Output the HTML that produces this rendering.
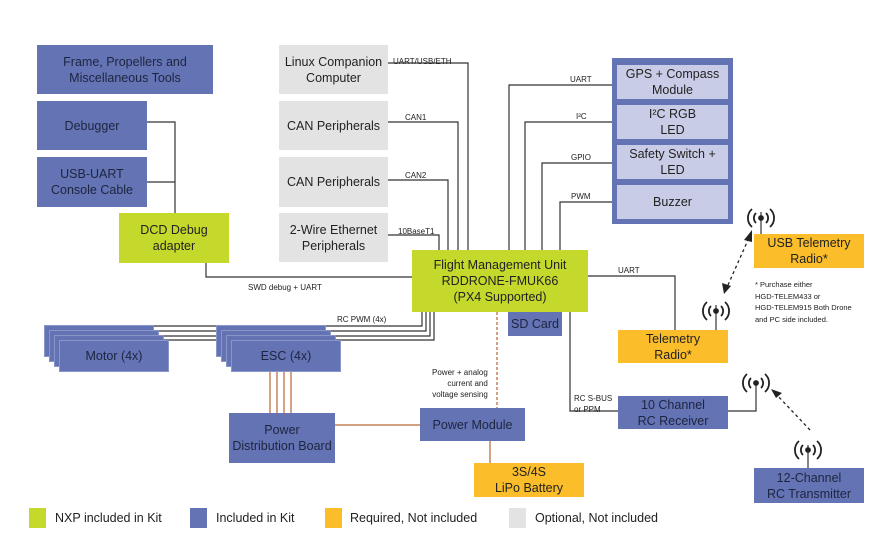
<!DOCTYPE html>
<html><head><meta charset="utf-8"><style>
body{margin:0;width:888px;height:533px;background:#fff;position:relative;overflow:hidden;font-family:"Liberation Sans",sans-serif;}
.b{position:absolute;display:flex;align-items:center;justify-content:center;text-align:center;font-size:12.5px;line-height:16px;color:#222;box-sizing:border-box;}
.bl{background:#6373b3;color:#1e2540;}
.gr{background:#e3e3e3;}
.gn{background:#c5d92d;}
.yl{background:#fbbd2a;}
.lv{background:#c9cce6;}
.t{position:absolute;font-size:8px;color:#222;white-space:nowrap;}
svg{position:absolute;left:0;top:0;}
</style></head><body>
<svg width="888" height="533">
<g stroke="#333" stroke-width="1.2" fill="none">
<polyline points="147,122 175,122 175,213"/>
<polyline points="147,182 175,182"/>
<polyline points="206,263 206,277 412,277"/>
<polyline points="388,63 468,63 468,250"/>
<polyline points="388,122 458,122 458,250"/>
<polyline points="388,180 448,180 448,250"/>
<polyline points="388,235 439,235 439,250"/>
<polyline points="617,85 509,85 509,250"/>
<polyline points="617,122 525,122 525,250"/>
<polyline points="617,163 542,163 542,250"/>
<polyline points="617,202 560,202 560,250"/>
<polyline points="588,276 675,276 675,330"/>
<polyline points="570,312 570,411 618,411"/>
<polyline points="728,411 756,411 756,385"/>
<polyline points="716,330 716,305"/>
<polyline points="761,234 761,212"/>
<polyline points="808,468 808,445"/>
<polyline points="434,312 434,340 150,340"/>
<polyline points="430,312 430,336 150,336"/>
<polyline points="426,312 426,331 150,331"/>
<polyline points="422,312 422,326 150,326"/>
</g>
<g stroke="#c9825a" stroke-width="1.5" fill="none">
<line x1="270" y1="372" x2="270" y2="413"/><line x1="277" y1="372" x2="277" y2="413"/>
<line x1="284" y1="372" x2="284" y2="413"/><line x1="291" y1="372" x2="291" y2="413"/>
<line x1="335" y1="425" x2="420" y2="425"/>
<line x1="490" y1="441" x2="490" y2="463"/>
<line x1="497" y1="312" x2="497" y2="408" stroke-dasharray="3,2"/>
</g>
<g stroke="#222" stroke-width="1.3" fill="none" stroke-dasharray="3,3">
<line x1="728" y1="285" x2="748" y2="240"/>
<line x1="810" y1="430" x2="776" y2="394"/>
</g>
<g fill="#222">
<polygon points="752,230 744,240 752,242"/>
<polygon points="724,294 722,283 731,286"/>
<polygon points="771,389 782,393 776,398"/>
</g>
<g stroke="#222" stroke-width="1.8" fill="none">
<g transform="translate(761,218)"><circle r="2" fill="#222"/><path d="M-5,-5 A7,7 0 0 0 -5,5 M5,-5 A7,7 0 0 1 5,5 M-9,-9 A12,12 0 0 0 -9,9 M9,-9 A12,12 0 0 1 9,9"/></g>
<g transform="translate(716,311)"><circle r="2" fill="#222"/><path d="M-5,-5 A7,7 0 0 0 -5,5 M5,-5 A7,7 0 0 1 5,5 M-9,-9 A12,12 0 0 0 -9,9 M9,-9 A12,12 0 0 1 9,9"/></g>
<g transform="translate(756,383)"><circle r="2" fill="#222"/><path d="M-5,-5 A7,7 0 0 0 -5,5 M5,-5 A7,7 0 0 1 5,5 M-9,-9 A12,12 0 0 0 -9,9 M9,-9 A12,12 0 0 1 9,9"/></g>
<g transform="translate(808,450)"><circle r="2" fill="#222"/><path d="M-5,-5 A7,7 0 0 0 -5,5 M5,-5 A7,7 0 0 1 5,5 M-9,-9 A12,12 0 0 0 -9,9 M9,-9 A12,12 0 0 1 9,9"/></g>
</g>
</svg>
<div class="b bl" style="left:37px;top:45px;width:176px;height:49px">Frame, Propellers and<br>Miscellaneous Tools</div>
<div class="b bl" style="left:37px;top:101px;width:110px;height:49px">Debugger</div>
<div class="b bl" style="left:37px;top:157px;width:110px;height:50px">USB-UART<br>Console Cable</div>
<div class="b gn" style="left:119px;top:213px;width:110px;height:50px">DCD Debug<br>adapter</div>
<div class="b gr" style="left:279px;top:45px;width:109px;height:49px">Linux Companion<br>Computer</div>
<div class="b gr" style="left:279px;top:101px;width:109px;height:49px">CAN Peripherals</div>
<div class="b gr" style="left:279px;top:157px;width:109px;height:50px">CAN Peripherals</div>
<div class="b gr" style="left:279px;top:213px;width:109px;height:49px">2-Wire Ethernet<br>Peripherals</div>
<div class="b gn" style="left:412px;top:250px;width:176px;height:62px">Flight Management Unit<br>RDDRONE-FMUK66<br>(PX4 Supported)</div>
<div class="b bl" style="left:508px;top:312px;width:54px;height:24px">SD Card</div>
<div class="b bl" style="left:612px;top:58px;width:121px;height:166px"></div>
<div class="b lv" style="left:617px;top:65px;width:111px;height:34px">GPS + Compass<br>Module</div>
<div class="b lv" style="left:617px;top:105px;width:111px;height:34px">I²C RGB<br>LED</div>
<div class="b lv" style="left:617px;top:145px;width:111px;height:34px">Safety Switch +<br>LED</div>
<div class="b lv" style="left:617px;top:185px;width:111px;height:34px">Buzzer</div>
<div class="b yl" style="left:754px;top:234px;width:110px;height:34px">USB Telemetry<br>Radio*</div>
<div class="t" style="left:755px;top:279px;line-height:11.5px;font-size:7.5px">* Purchase either<br>HGD-TELEM433 or<br>HGD-TELEM915 Both Drone<br>and PC side included.</div>
<div class="b yl" style="left:618px;top:330px;width:110px;height:33px">Telemetry<br>Radio*</div>
<div class="b bl" style="left:618px;top:396px;width:110px;height:33px">10 Channel<br>RC Receiver</div>
<div class="b bl" style="left:754px;top:468px;width:110px;height:35px">12-Channel<br>RC Transmitter</div>
<div class="b bl" style="left:44px;top:325px;width:110px;height:32px;border:1px solid #8a96c8"></div>
<div class="b bl" style="left:49px;top:330px;width:110px;height:32px;border:1px solid #8a96c8"></div>
<div class="b bl" style="left:54px;top:335px;width:110px;height:32px;border:1px solid #8a96c8"></div>
<div class="b bl" style="left:59px;top:340px;width:110px;height:32px;border:1px solid #8a96c8">Motor (4x)</div>
<div class="b bl" style="left:216px;top:325px;width:110px;height:32px;border:1px solid #8a96c8"></div>
<div class="b bl" style="left:221px;top:330px;width:110px;height:32px;border:1px solid #8a96c8"></div>
<div class="b bl" style="left:226px;top:335px;width:110px;height:32px;border:1px solid #8a96c8"></div>
<div class="b bl" style="left:231px;top:340px;width:110px;height:32px;border:1px solid #8a96c8">ESC (4x)</div>
<div class="b bl" style="left:229px;top:413px;width:106px;height:50px">Power<br>Distribution Board</div>
<div class="b bl" style="left:420px;top:408px;width:105px;height:33px">Power Module</div>
<div class="b yl" style="left:474px;top:463px;width:110px;height:34px">3S/4S<br>LiPo Battery</div>
<div class="t" style="left:393px;top:57px">UART/USB/ETH</div>
<div class="t" style="left:405px;top:113px">CAN1</div>
<div class="t" style="left:405px;top:171px">CAN2</div>
<div class="t" style="left:398px;top:227px">10BaseT1</div>
<div class="t" style="left:570px;top:75px">UART</div>
<div class="t" style="left:576px;top:112px">I²C</div>
<div class="t" style="left:571px;top:153px">GPIO</div>
<div class="t" style="left:571px;top:192px">PWM</div>
<div class="t" style="left:618px;top:266px">UART</div>
<div class="t" style="left:248px;top:283px">SWD debug + UART</div>
<div class="t" style="left:337px;top:315px">RC PWM (4x)</div>
<div class="t" style="left:432px;top:367px;text-align:right;line-height:11px">Power + analog<br>current and<br>voltage sensing</div>
<div class="t" style="left:574px;top:393px;line-height:11px">RC S-BUS<br>or PPM</div>
<div style="position:absolute;left:29px;top:508px;width:17px;height:20px;background:#c5d92d"></div>
<div class="t" style="left:55px;top:511px;font-size:12.5px">NXP included in Kit</div>
<div style="position:absolute;left:190px;top:508px;width:17px;height:20px;background:#6373b3"></div>
<div class="t" style="left:216px;top:511px;font-size:12.5px">Included in Kit</div>
<div style="position:absolute;left:325px;top:508px;width:17px;height:20px;background:#fbbd2a"></div>
<div class="t" style="left:350px;top:511px;font-size:12.5px">Required, Not included</div>
<div style="position:absolute;left:509px;top:508px;width:17px;height:20px;background:#e3e3e3"></div>
<div class="t" style="left:535px;top:511px;font-size:12.5px">Optional, Not included</div>
</body></html>
